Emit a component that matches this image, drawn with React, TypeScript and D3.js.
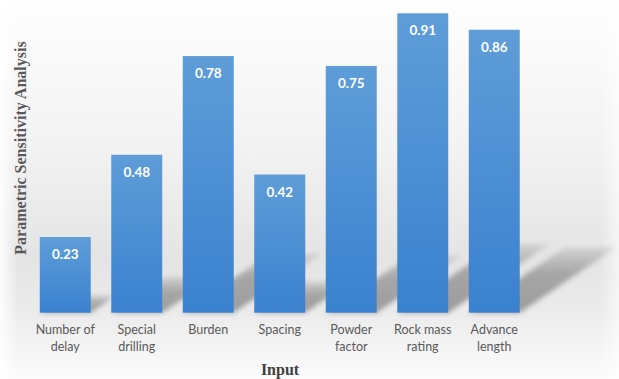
import React from "react";
import * as d3 from "d3";

const categories: string[][] = [
  ["Number of", "delay"],
  ["Special", "drilling"],
  ["Burden"],
  ["Spacing"],
  ["Powder", "factor"],
  ["Rock mass", "rating"],
  ["Advance", "length"],
];
const values: number[] = [0.23, 0.48, 0.78, 0.42, 0.75, 0.91, 0.86];
const yTitle = "Parametric Sensitivity Analysis";
const xTitle = "Input";

const W = 619;
const H = 379;

export default function App() {
  const keys = categories.map((c) => c.join(" "));
  const x = d3
    .scaleBand<string>()
    .domain(keys)
    .range([29.5, 530])
    .paddingInner(0.287)
    .paddingOuter(0.1435);
  const y = d3.scaleLinear().domain([0, 1]).range([312.7, -16.3]);
  const base = y(0);
  const sx = 0.34;
  const sy = 0.23;
  const bw = x.bandwidth();

  return (
    <svg
      width={W}
      height={H}
      style={{ position: "absolute", left: 0, top: 0 }}
      xmlns="http://www.w3.org/2000/svg"
    >
      <defs>
        <linearGradient id="bg" x1="0" y1="0" x2="0" y2="1">
          <stop offset="0" stopColor="#fefefe" />
          <stop offset="0.4" stopColor="#f2f2f2" />
          <stop offset="0.68" stopColor="#e4e4e4" />
          <stop offset="0.82" stopColor="#ebebeb" />
          <stop offset="1" stopColor="#fcfcfc" />
        </linearGradient>
        <linearGradient id="bgh" x1="0" y1="0" x2="1" y2="0">
          <stop offset="0" stopColor="#ffffff" stopOpacity="0.9" />
          <stop offset="0.03" stopColor="#ffffff" stopOpacity="0" />
          <stop offset="0.97" stopColor="#ffffff" stopOpacity="0" />
          <stop offset="1" stopColor="#ffffff" stopOpacity="0.6" />
        </linearGradient>
        <linearGradient id="bar" x1="0" y1="0" x2="0" y2="1">
          <stop offset="0" stopColor="#5e9dd8" />
          <stop offset="1" stopColor="#3a81cf" />
        </linearGradient>
        <linearGradient id="shadow" x1="0" y1="1" x2="0" y2="0">
          <stop offset="0" stopColor="#000" stopOpacity="0.34" />
          <stop offset="0.6" stopColor="#000" stopOpacity="0.28" />
          <stop offset="1" stopColor="#000" stopOpacity="0.08" />
        </linearGradient>
        <filter id="blur" x="-20%" y="-20%" width="140%" height="140%">
          <feGaussianBlur stdDeviation="2.5" />
        </filter>
      </defs>
      <rect x={0} y={0} width={W} height={H} fill="url(#bg)" />
      <rect x={0} y={0} width={W} height={H} fill="url(#bgh)" />

      <g filter="url(#blur)">
        {values.map((v, i) => {
          const x0 = x(keys[i])!;
          const h = base - y(v);
          const dx = sx * h;
          const dy = sy * h;
          const pts = [
            [x0, base],
            [x0 + bw, base],
            [x0 + bw + dx, base - dy],
            [x0 + dx, base - dy],
          ];
          return (
            <polygon
              key={"s" + i}
              points={pts.map((p) => p.join(",")).join(" ")}
              fill="url(#shadow)"
            />
          );
        })}
      </g>

      {values.map((v, i) => {
        const x0 = x(keys[i])!;
        return (
          <g key={"b" + i}>
            <rect
              x={x0}
              y={y(v)}
              width={bw}
              height={base - y(v)}
              fill="url(#bar)"
            />
            <text
              x={x0 + bw / 2}
              y={y(v) + 22}
              textAnchor="middle"
              fill="#ffffff"
              fontFamily="Lato, 'Open Sans', sans-serif"
              fontWeight="bold"
              fontSize={13.5}
            >
              {v.toFixed(2)}
            </text>
          </g>
        );
      })}

      {categories.map((lines, i) => {
        const cx = x(keys[i])! + bw / 2;
        return (
          <text
            key={"c" + i}
            textAnchor="middle"
            fill="#595959"
            fontFamily="Lato, 'Open Sans', sans-serif"
            fontSize={12.5}
          >
            {lines.map((l, j) => (
              <tspan key={j} x={cx} y={333.5 + j * 17}>
                {l}
              </tspan>
            ))}
          </text>
        );
      })}

      <text
        x={280}
        y={374.5}
        textAnchor="middle"
        fill="#404040"
        fontFamily="'Liberation Serif', 'DejaVu Serif', serif"
        fontWeight="bold"
        fontSize={16}
      >
        {xTitle}
      </text>
      <text
        transform="translate(25.5,148) rotate(-90)"
        textAnchor="middle"
        fill="#595959"
        fontFamily="'Liberation Serif', 'DejaVu Serif', serif"
        fontWeight="bold"
        fontSize={16}
      >
        {yTitle}
      </text>
    </svg>
  );
}
